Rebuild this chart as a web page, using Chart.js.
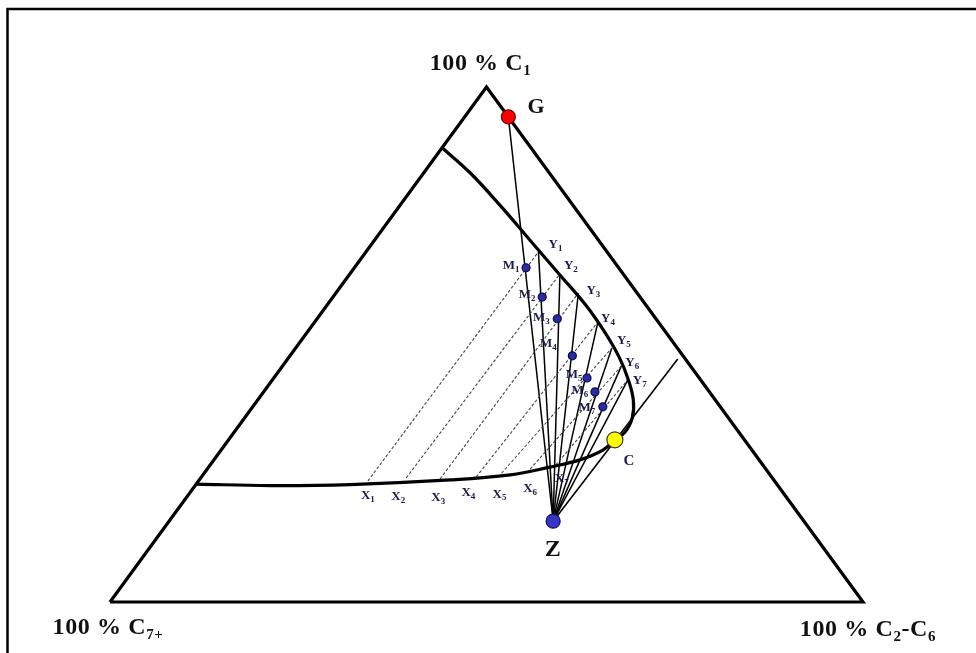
<!DOCTYPE html>
<html>
<head>
<meta charset="utf-8">
<script src="https://cdn.jsdelivr.net/npm/chart.js@4"></script>
<style>
  body { margin: 0; background: #fff; }
  #wrap { position: relative; width: 976px; height: 653px; }
</style>
</head>
<body>
<div id="wrap"><canvas id="ternary"></canvas></div>
<script>
// compositions are [C1 %, C2-C6 %]; C7+ is whatever is left
const corners = [[0, 0], [100, 0], [0, 100]];   // C7+, C1, C2-C6

const gas = [94.2, 5.8];        // G
const oil = [15.7, 51.0];       // Z
const critical = [31.5, 51.3];  // C
const criticalTieEnd = [47.2, 51.8];

// phase envelope: bubble-point branch up to C, then dew-point branch
const bubbleCurve = [
  [22.9, 0], [22.6, 10.0], [22.8, 20.5], [23.7, 33.3], [24.7, 40.8],
  [26.2, 45.3], [27.6, 48.6], [29.5, 50.7], [31.5, 51.3]
];
const dewCurve = [
  [33.0, 51.9], [35.7, 51.5], [39.2, 49.9], [43.5, 47.0], [47.6, 43.8],
  [52.4, 39.5], [57.7, 34.3], [63.5, 28.0], [70.3, 20.6], [77.1, 13.2],
  [83.3, 6.2], [88.2, 0]
];

const liquidPts = [[23.5, 22.5], [24.1, 27.3], [23.9, 31.9], [24.3, 36.5], [25.0, 39.5], [25.8, 42.9], [26.6, 45.9]];
const vapourPts = [[68.0, 22.9], [63.7, 27.9], [60.0, 32.2], [54.4, 37.6], [49.3, 42.0], [45.8, 45.0], [43.1, 47.2]];
const mixPts = [[64.9, 22.8], [59.2, 27.8], [55.0, 31.9], [47.8, 37.5], [43.5, 41.6], [40.8, 44.0], [37.9, 46.5]];

const xNames = ['1', '2', '3', '4', '5', '6', '7'];

function toXY(p) {
  return { x: p[1] + p[0] / 2, y: p[0] };
}

function lineSet(pts, extra) {
  return Object.assign({
    type: 'scatter',
    data: pts.map(toXY),
    showLine: true,
    pointRadius: 0,
    borderColor: '#000',
    borderWidth: 1.5,
    fill: false,
    clip: false,
    order: 2
  }, extra || {});
}

const datasets = [];
datasets.push(lineSet([...corners, corners[0]], { borderWidth: 3.2, borderJoinStyle: 'miter' }));
datasets.push(lineSet([...bubbleCurve, ...dewCurve], { borderWidth: 3.2, tension: 0.4 }));
liquidPts.forEach((x, i) => {
  datasets.push(lineSet([x, vapourPts[i]], { borderColor: '#444', borderWidth: 1.1, borderDash: [3, 2] }));
});
datasets.push(lineSet([oil, gas]));
vapourPts.forEach(y => datasets.push(lineSet([oil, y])));
datasets.push(lineSet([oil, criticalTieEnd], { borderWidth: 1.6 }));

function dotSet(pts, fill, r, edge) {
  return {
    type: 'scatter',
    data: pts.map(toXY),
    pointRadius: r,
    pointBackgroundColor: fill,
    pointBorderColor: edge,
    pointBorderWidth: 1.2,
    clip: false,
    order: 0
  };
}
datasets.push(dotSet(mixPts, '#2a2aa8', 4, '#0b0b45'));
datasets.push(dotSet([gas], '#ff0000', 7, '#600'));
datasets.push(dotSet([oil], '#3535c8', 7, '#10104a'));
datasets.push(dotSet([critical], '#ffff00', 8, '#333'));

// text pieces: [string, isSubscript]
const labels = [
  { parts: [['100 % C', 0], ['1', 1]], at: [100, 0], dx: -6, dy: -25, size: 24, color: '#111' },
  { parts: [['100 % C', 0], ['7+', 1]], at: [0, 0], dx: -2, dy: 24, size: 24, color: '#111' },
  { parts: [['100 % C', 0], ['2', 1], ['-C', 0], ['6', 1]], at: [0, 100], dx: 5, dy: 26, size: 24, color: '#111' },
  { parts: [['G', 0]], at: gas, dx: 28, dy: -11, size: 22, color: '#111' },
  { parts: [['Z', 0]], at: oil, dx: 0, dy: 27, size: 24, color: '#111' },
  { parts: [['C', 0]], at: critical, dx: 14, dy: 20, size: 15, color: '#1c1c4a' }
];
const yOff = [[17, -8], [11, -9], [15, -3], [10, -4], [12, -8], [11, -4], [12, 0]];
const mOff = [[-15, -3], [-15, -3], [-16, -2], [-24, -13], [-13, -4], [-15, -2], [-16, 0]];
const xOff = [[0, 14], [-8, 18], [-2, 18], [-8, 15], [-2, 20], [0, 19], [6, 13]];
xNames.forEach((n, i) => {
  labels.push({ parts: [['Y', 0], [n, 1]], at: vapourPts[i], dx: yOff[i][0], dy: yOff[i][1], size: 13, color: '#1c1c4a' });
  labels.push({ parts: [['M', 0], [n, 1]], at: mixPts[i], dx: mOff[i][0], dy: mOff[i][1], size: 13, color: '#1c1c4a' });
  labels.push({ parts: [['X', 0], [n, 1]], at: liquidPts[i], dx: xOff[i][0], dy: xOff[i][1], size: 13, color: '#1c1c4a' });
});

function drawParts(ctx, parts, cx, cy, size, color) {
  const subSize = Math.round(size * (size < 16 ? 0.72 : 0.62));
  const fontOf = s => 'bold ' + s + 'px "Liberation Serif", "Times New Roman", serif';
  ctx.letterSpacing = size > 20 ? '0.6px' : '0px';
  let w = 0;
  parts.forEach(p => {
    ctx.font = fontOf(p[1] ? subSize : size);
    w += ctx.measureText(p[0]).width;
  });
  let x = cx - w / 2;
  ctx.fillStyle = color;
  ctx.textBaseline = 'alphabetic';
  ctx.textAlign = 'left';
  const base = cy + size * 0.33;
  parts.forEach(p => {
    ctx.font = fontOf(p[1] ? subSize : size);
    ctx.fillText(p[0], x, p[1] ? base + size * 0.22 : base);
    x += ctx.measureText(p[0]).width;
  });
}

const decor = {
  id: 'decor',
  beforeDraw(chart) {
    const ctx = chart.ctx;
    ctx.save();
    ctx.strokeStyle = '#000';
    ctx.lineWidth = 2.5;
    ctx.strokeRect(7.5, 9, 990, 700);
    ctx.restore();
  },
  afterDraw(chart) {
    const ctx = chart.ctx;
    const sx = chart.scales.x, sy = chart.scales.y;
    ctx.save();
    labels.forEach(l => {
      const p = toXY(l.at);
      drawParts(ctx, l.parts, sx.getPixelForValue(p.x) + l.dx, sy.getPixelForValue(p.y) + l.dy, l.size, l.color);
    });
    ctx.restore();
  }
};

new Chart(document.getElementById('ternary'), {
  type: 'scatter',
  data: { datasets: datasets },
  options: {
    responsive: true,
    maintainAspectRatio: false,
    animation: false,
    events: [],
    layout: { padding: { left: 110, right: 113, top: 87, bottom: 51 } },
    scales: {
      x: { type: 'linear', min: 0, max: 100, display: false },
      y: { type: 'linear', min: 0, max: 100, display: false }
    },
    plugins: { legend: { display: false }, tooltip: { enabled: false } }
  },
  plugins: [decor]
});
</script>
</body>
</html>
